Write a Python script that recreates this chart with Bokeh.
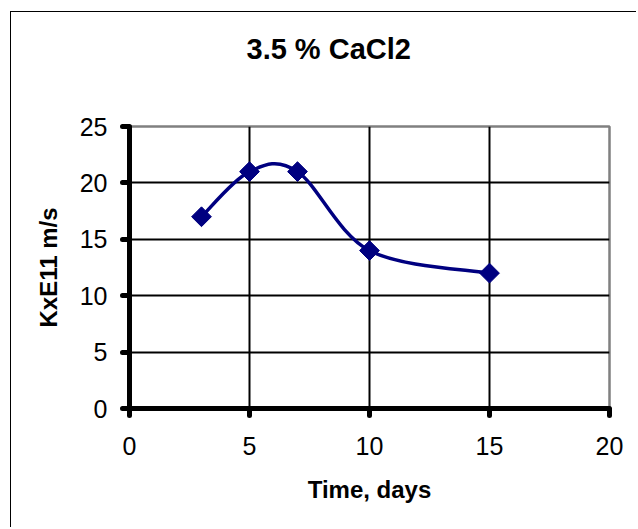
import numpy as np
from bokeh.plotting import figure
from bokeh.models import Range1d, FixedTicker, LinearAxis
from bokeh.embed import file_html
from bokeh.resources import INLINE

# Data
title_text = "3.5 % CaCl2"
x_label = "Time, days"
y_label = "KxE11 m/s"
days = [3, 5, 7, 10, 15]
k_values = [17, 21, 21, 14, 12]
x_ticks = [0, 5, 10, 15, 20]
y_ticks = [0, 5, 10, 15, 20, 25]

NAVY = "#000080"
FONT = "Liberation Sans"

p = figure(width=626, height=516, output_backend="svg", toolbar_location=None,
           x_range=Range1d(0, 20), y_range=Range1d(0, 25),
           min_border_left=118, min_border_right=28, min_border_top=114,
           min_border_bottom=120)
p.styles = {"margin-left": "10px", "margin-top": "11px",
            "border-left": "1.5px solid black", "border-top": "1.5px solid black"}

p.background_fill_color = "white"
p.border_fill_color = "white"
p.outline_line_color = "#808080"
p.outline_line_width = 2.5

xa = p.below[0]
ya = p.left[0]

# invisible spacer axis above the plot area, the title sits above it
spacer = LinearAxis(ticker=FixedTicker(ticks=[10]), axis_line_color=None,
                    major_tick_line_color=None, minor_tick_line_color=None,
                    major_label_overrides={10: ""}, major_label_standoff=0,
                    major_tick_out=62, major_tick_in=0)
p.add_layout(spacer, "above")

p.title.text = title_text
p.title.text_font = FONT
p.title.text_font_size = "29px"
p.title.text_font_style = "bold"
p.title.text_color = "black"
p.title.align = "left"
p.title.offset = 117
p.title.standoff = 0

for ax, ticks in ((xa, x_ticks), (ya, y_ticks)):
    ax.ticker = FixedTicker(ticks=ticks)
    ax.axis_line_width = 5
    ax.axis_line_color = "black"
    ax.major_tick_line_width = 5
    ax.major_tick_line_cap = "round"
    ax.major_tick_line_color = "black"
    ax.major_tick_out = 7
    ax.major_tick_in = 0
    ax.minor_tick_line_color = None
    ax.major_label_text_font = FONT
    ax.major_label_text_font_size = "25px"
    ax.major_label_text_color = "black"
    ax.axis_label_text_font = FONT
    ax.axis_label_text_font_size = "24px"
    ax.axis_label_text_font_style = "bold"
    ax.axis_label_text_color = "black"

xa.axis_label = x_label
ya.axis_label = y_label
xa.major_label_standoff = 21
ya.major_label_standoff = 15
xa.axis_label_standoff = 18
ya.axis_label_standoff = 15

p.xgrid.ticker = FixedTicker(ticks=[t for t in x_ticks if 0 < t < 20])
p.ygrid.ticker = FixedTicker(ticks=[t for t in y_ticks if 0 < t < 25])
for g in (p.xgrid, p.ygrid):
    g.grid_line_color = "black"
    g.grid_line_width = 2
    g.grid_line_alpha = 1

# Smoothed line (Bezier segments built from the data points)
xs = np.array(days, dtype=float)
ys = np.array(k_values, dtype=float)
n = len(xs)
x0, y0, x1, y1, cx0, cy0, cx1, cy1 = ([] for _ in range(8))
for i in range(n - 1):
    pm = i - 1 if i > 0 else i
    pn = i + 2 if i + 2 < n else i + 1
    x0.append(xs[i]); y0.append(ys[i])
    x1.append(xs[i + 1]); y1.append(ys[i + 1])
    cx0.append(xs[i] + (xs[i + 1] - xs[pm]) / 6)
    cy0.append(ys[i] + (ys[i + 1] - ys[pm]) / 6)
    cx1.append(xs[i + 1] - (xs[pn] - xs[i]) / 6)
    cy1.append(ys[i + 1] - (ys[pn] - ys[i]) / 6)

p.bezier(x0=x0, y0=y0, x1=x1, y1=y1, cx0=cx0, cy0=cy0, cx1=cx1, cy1=cy1,
         line_color=NAVY, line_width=3.5)
p.scatter(days, k_values, marker="square", size=14, angle=np.pi / 4,
          fill_color=NAVY, line_color=NAVY)

open("out.html", "w").write(file_html(p, INLINE))
